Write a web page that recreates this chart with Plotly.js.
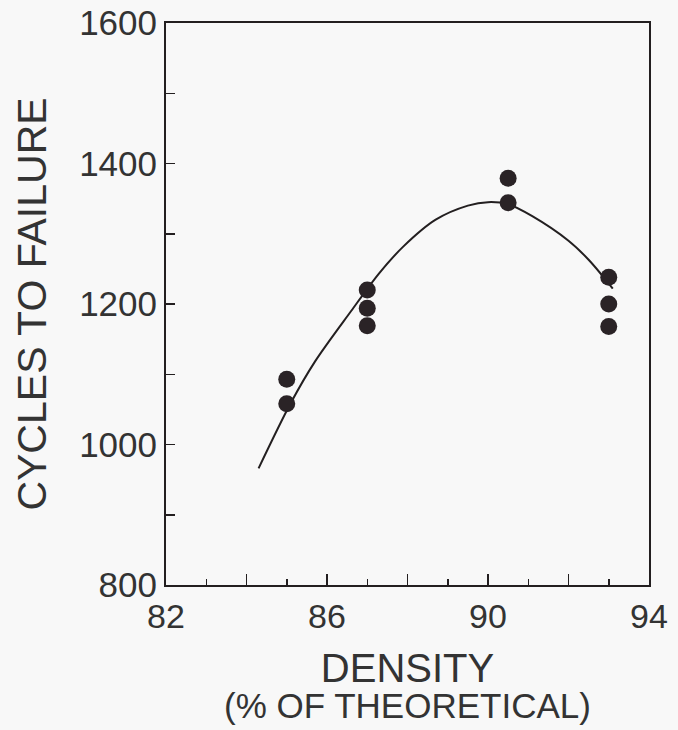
<!DOCTYPE html>
<html>
<head>
<meta charset="utf-8">
<script src="https://cdn.plot.ly/plotly-3.0.1.min.js"></script>
<style>html,body{margin:0;padding:0;background:#f8f8f8;}#chart{width:678px;height:730px;}</style>
</head>
<body>
<div id="chart"></div>
<script>
// Measured data points
const density = [85, 85, 87, 87, 87, 90.5, 90.5, 93, 93, 93];
const cycles = [1093, 1058, 1220, 1194, 1169, 1379, 1344, 1238, 1200, 1168];

// Fitted curve
const fitDensity = [84.3, 85.1, 85.7, 86.6, 87.3, 87.9, 88.7, 89.5, 90.0, 90.5, 91.1, 92.0, 92.5, 93.1];
const fitCycles = [966, 1059, 1118, 1190, 1244, 1282, 1320, 1340, 1345, 1342, 1325, 1290, 1263, 1222];

// Axis ticks
const xMajorTicks = [82, 84, 86, 88, 90, 92, 94];
const xMajorText = ['82', '', '86', '', '90', '', '94'];
const xMinorTicks = [83, 85, 87, 89, 91, 93];
const yTicks = [800, 900, 1000, 1100, 1200, 1300, 1400, 1500, 1600];
const yTickText = ['800', '', '1000', '', '1200', '', '1400', '', '1600'];

const xTitle = 'DENSITY';
const xSubTitle = '(% OF THEORETICAL)';
const yTitle = 'CYCLES TO FAILURE';

const ink = '#231f20';
const font = 'Liberation Sans, Arial, sans-serif';

const traces = [
  {
    x: fitDensity, y: fitCycles, type: 'scatter', mode: 'lines',
    line: {color: ink, width: 2, shape: 'spline', smoothing: 0.9},
    hoverinfo: 'skip', showlegend: false
  },
  {
    x: density, y: cycles, type: 'scatter', mode: 'markers',
    marker: {color: '#2a2326', size: 17, line: {width: 0}},
    showlegend: false
  }
];

const layout = {
  width: 678, height: 730,
  paper_bgcolor: '#f8f8f8', plot_bgcolor: '#f8f8f8',
  margin: {l: 166, r: 29, t: 23, b: 145},
  font: {family: font, color: '#333'},
  xaxis: {
    range: [82, 94], showgrid: false, zeroline: false,
    showline: true, mirror: true, linecolor: ink, linewidth: 2,
    tickmode: 'array', tickvals: xMajorTicks, ticktext: xMajorText,
    ticks: 'inside', ticklen: 11, tickwidth: 1.5, tickcolor: ink,
    tickfont: {family: font, size: 34, color: '#333'},
    minor: {tickmode: 'array', tickvals: xMinorTicks, ticks: 'inside', ticklen: 6, tickwidth: 1.5, tickcolor: ink, showgrid: false},
    title: {text: xTitle, font: {family: font, size: 40, color: '#333'}, standoff: 20}
  },
  yaxis: {
    range: [800, 1600], showgrid: false, zeroline: false,
    showline: true, mirror: true, linecolor: ink, linewidth: 2,
    tickmode: 'array', tickvals: yTicks, ticktext: yTickText,
    ticks: 'inside', ticklen: 9, tickwidth: 1.5, tickcolor: ink,
    tickfont: {family: font, size: 35, color: '#333'},
    title: {text: yTitle, font: {family: font, size: 41, color: '#333'}, standoff: 20}
  },
  annotations: [
    {
      text: xSubTitle, xref: 'paper', yref: 'paper', x: 0.5, y: -0.215,
      xanchor: 'center', yanchor: 'middle', showarrow: false,
      font: {family: font, size: 35, color: '#333'}
    }
  ]
};

Plotly.newPlot('chart', traces, layout, {displayModeBar: false, staticPlot: true});
</script>
</body>
</html>
